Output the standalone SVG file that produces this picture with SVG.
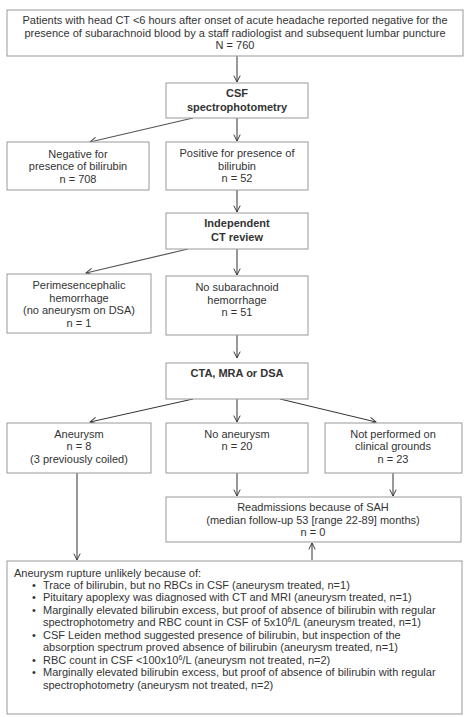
<svg xmlns="http://www.w3.org/2000/svg" width="470" height="717" viewBox="0 0 470 717">
<style>
.box{fill:#fff;stroke:#999;stroke-width:1}
text{font-family:"Liberation Sans",Arial,sans-serif;font-size:11px;fill:#333}
.c{text-anchor:middle}
.b{font-weight:bold}
.ln{stroke:#333;stroke-width:1;fill:none}
.dg{stroke:#555;stroke-width:1.2;fill:none}
</style>
<defs>
<marker id="ah" viewBox="0 0 10 10" refX="9" refY="5" markerWidth="8" markerHeight="8" markerUnits="userSpaceOnUse" orient="auto">
<path d="M1,1 L9,5 L1,9" fill="none" stroke="#333" stroke-width="1.2"/>
</marker>
</defs>
<g id="connectors">
<line class="ln" x1="237" y1="56" x2="237" y2="82" marker-end="url(#ah)"/>
<line class="dg" x1="193" y1="118" x2="90" y2="142" marker-end="url(#ah)"/>
<line class="ln" x1="237" y1="118" x2="237" y2="141" marker-end="url(#ah)"/>
<line class="ln" x1="237" y1="190" x2="237" y2="212" marker-end="url(#ah)"/>
<line class="dg" x1="188" y1="249" x2="86" y2="273" marker-end="url(#ah)"/>
<line class="ln" x1="237" y1="249" x2="237" y2="275" marker-end="url(#ah)"/>
<line class="ln" x1="237" y1="335" x2="237" y2="358" marker-end="url(#ah)"/>
<line class="ln" x1="193" y1="399" x2="90" y2="422" marker-end="url(#ah)"/>
<line class="ln" x1="237" y1="399" x2="237" y2="422" marker-end="url(#ah)"/>
<line class="ln" x1="280" y1="399" x2="376" y2="422" marker-end="url(#ah)"/>
<line class="ln" x1="237" y1="473" x2="237" y2="496" marker-end="url(#ah)"/>
<line class="ln" x1="393" y1="473" x2="393" y2="496" marker-end="url(#ah)"/>
<line class="ln" x1="77" y1="473" x2="77" y2="560" marker-end="url(#ah)"/>
<line class="ln" x1="312" y1="560" x2="312" y2="543" marker-end="url(#ah)"/>
</g>
<g id="n-patients">
<rect class="box" x="7" y="10" width="456" height="46"/>
<text class="c" x="235" y="24">Patients with head CT &lt;6 hours after onset of acute headache reported negative for the</text>
<text class="c" x="235" y="37">presence of subarachnoid blood by a staff radiologist and subsequent lumbar puncture</text>
<text class="c" x="235" y="49">N = 760</text>
</g>
<g id="n-csf">
<rect class="box" x="166" y="83" width="142" height="35"/>
<text class="c b" x="237" y="97">CSF</text>
<text class="c b" x="237" y="111">spectrophotometry</text>
</g>
<g id="n-negative">
<rect class="box" x="7" y="142" width="142" height="48"/>
<text class="c" x="78" y="158">Negative for</text>
<text class="c" x="78" y="170">presence of bilirubin</text>
<text class="c" x="78" y="183">n = 708</text>
</g>
<g id="n-positive">
<rect class="box" x="166" y="142" width="142" height="48"/>
<text class="c" x="237" y="157">Positive for presence of</text>
<text class="c" x="237" y="170">bilirubin</text>
<text class="c" x="237" y="182">n = 52</text>
</g>
<g id="n-ctreview">
<rect class="box" x="166" y="213" width="142" height="36"/>
<text class="c b" x="237" y="227">Independent</text>
<text class="c b" x="237" y="241">CT review</text>
</g>
<g id="n-perimesencephalic">
<rect class="box" x="7" y="274" width="144" height="59"/>
<text class="c" x="79" y="289">Perimesencephalic</text>
<text class="c" x="79" y="302">hemorrhage</text>
<text class="c" x="79" y="314">(no aneurysm on DSA)</text>
<text class="c" x="79" y="327">n = 1</text>
</g>
<g id="n-nosah">
<rect class="box" x="166" y="276" width="142" height="59"/>
<text class="c" x="237" y="291">No subarachnoid</text>
<text class="c" x="237" y="304">hemorrhage</text>
<text class="c" x="237" y="316">n = 51</text>
</g>
<g id="n-cta">
<rect class="box" x="166" y="363" width="142" height="36"/>
<text class="c b" x="237" y="377">CTA, MRA or DSA</text>
</g>
<g id="n-aneurysm">
<rect class="box" x="7" y="423" width="144" height="50"/>
<text class="c" x="79" y="438">Aneurysm</text>
<text class="c" x="79" y="450">n = 8</text>
<text class="c" x="79" y="463">(3 previously coiled)</text>
</g>
<g id="n-noaneurysm">
<rect class="box" x="166" y="423" width="142" height="50"/>
<text class="c" x="237" y="438">No aneurysm</text>
<text class="c" x="237" y="450">n = 20</text>
</g>
<g id="n-notperformed">
<rect class="box" x="325" y="423" width="137" height="50"/>
<text class="c" x="393" y="438">Not performed on</text>
<text class="c" x="393" y="450">clinical grounds</text>
<text class="c" x="393" y="463">n = 23</text>
</g>
<g id="n-readmissions">
<rect class="box" x="166" y="497" width="295" height="45"/>
<text class="c" x="313" y="511">Readmissions because of SAH</text>
<text class="c" x="313" y="524">(median follow-up 53 [range 22-89] months)</text>
<text class="c" x="313" y="536">n = 0</text>
</g>
<g id="n-rupture">
<rect class="box" x="7" y="561" width="455" height="153"/>
<text x="14" y="577">Aneurysm rupture unlikely because of:</text>
<text x="32" y="589">•</text><text x="43" y="589">Trace of bilirubin, but no RBCs in CSF (aneurysm treated, n=1)</text>
<text x="32" y="601">•</text><text x="43" y="601">Pituitary apoplexy was diagnosed with CT and MRI (aneurysm treated, n=1)</text>
<text x="32" y="614">•</text><text x="43" y="614">Marginally elevated bilirubin excess, but proof of absence of bilirubin with regular</text>
<text x="43" y="626">spectrophotometry and RBC count in CSF of 5x10<tspan dy="-4" font-size="7">6</tspan><tspan dy="4">/L (aneurysm treated, n=1)</tspan></text>
<text x="32" y="639">•</text><text x="43" y="639">CSF Leiden method suggested presence of bilirubin, but inspection of the</text>
<text x="43" y="651">absorption spectrum proved absence of bilirubin (aneurysm treated, n=1)</text>
<text x="32" y="664">•</text><text x="43" y="664">RBC count in CSF &lt;100x10<tspan dy="-4" font-size="7">6</tspan><tspan dy="4">/L (aneurysm not treated, n=2)</tspan></text>
<text x="32" y="676">•</text><text x="43" y="676">Marginally elevated bilirubin excess, but proof of absence of bilirubin with regular</text>
<text x="43" y="689">spectrophotometry (aneurysm not treated, n=2)</text>
</g>
</svg>
